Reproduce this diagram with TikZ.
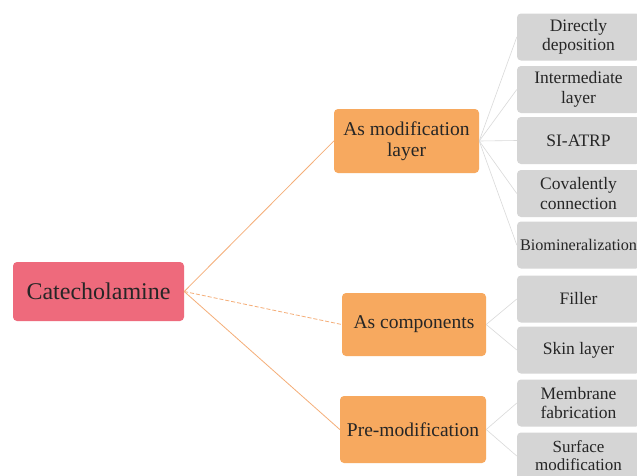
\documentclass[tikz,border=0pt]{standalone}
\usepackage{fontspec}
\setmainfont{Liberation Serif}
\definecolor{rootpink}{HTML}{EE6A7C}
\definecolor{midorange}{HTML}{F7A95F}
\definecolor{leafgray}{HTML}{D5D5D5}
\definecolor{lineorange}{HTML}{F5AE78}
\definecolor{linegray}{HTML}{DADADA}
\definecolor{txt}{HTML}{262626}
\begin{document}
\begin{tikzpicture}[x=1pt,y=-1pt,
  base/.style={rounded corners=4pt, inner sep=0pt, align=center, text=txt},
  rootbox/.style={base, fill=rootpink, minimum width=171pt, minimum height=59pt, font=\fontsize{24}{28}\selectfont},
  midbox/.style={base, fill=midorange, font=\fontsize{19.5}{21}\selectfont},
  leafbox/.style={base, fill=leafgray, minimum width=123pt, minimum height=47pt, font=\fontsize{17.5}{19.5}\selectfont},
  oline/.style={draw=lineorange, line width=0.8pt},
  gline/.style={draw=linegray, line width=0.6pt}]
\useasboundingbox (0,0) rectangle (637,475);
\clip (0,0) rectangle (637,475);
\fill[white] (0,0) rectangle (637,475);

\node[rootbox] (root) at (98.5,291.5) {Catecholamine};

\node[midbox, minimum width=145pt, minimum height=64pt] (mod) at (406.5,141) {As modification\\layer};
\node[midbox, minimum width=144pt, minimum height=63pt] (comp) at (414,324.5) {As components};
\node[midbox, minimum width=146pt, minimum height=67pt] (pre) at (413,429.5) {Pre-modification};

\node[leafbox] (g1) at (578.5,37) {Directly\\deposition};
\node[leafbox] (g2) at (578.5,89.5) {Intermediate\\layer};
\node[leafbox] (g3) at (578.5,140.5) {SI-ATRP};
\node[leafbox] (g4) at (578.5,193.5) {Covalently\\connection};
\node[leafbox, font=\fontsize{16.2}{19}\selectfont] (g5) at (578.5,245) {Biomineralization};
\node[leafbox] (g6) at (578.5,299) {Filler};
\node[leafbox] (g7) at (578.5,350) {Skin layer};
\node[leafbox] (g8) at (578.5,403) {Membrane\\fabrication};
\node[leafbox, font=\fontsize{17}{18}\selectfont] (g9) at (578.5,456) {Surface\\modification};

\draw[oline] (root.east) -- (mod.west);
\draw[oline, dashed, dash pattern=on 4pt off 2pt] (root.east) -- (comp.west);
\draw[oline] (root.east) -- (pre.west);

\foreach \g in {g1,g2,g3,g4,g5} \draw[gline] (mod.east) -- (\g.west);
\foreach \g in {g6,g7} \draw[gline] (comp.east) -- (\g.west);
\foreach \g in {g8,g9} \draw[gline] (pre.east) -- (\g.west);
\end{tikzpicture}
\end{document}
